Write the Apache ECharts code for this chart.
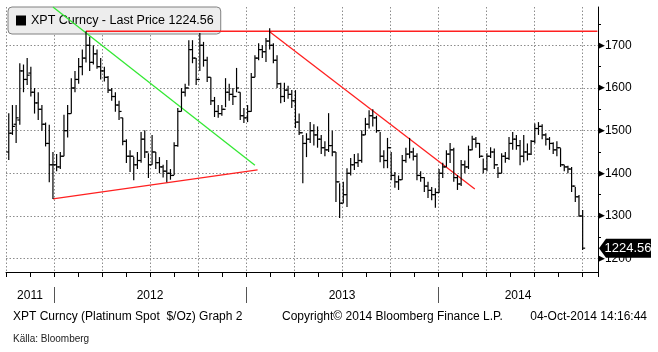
<!DOCTYPE html>
<html>
<head>
<meta charset="utf-8">
<script src="https://cdn.jsdelivr.net/npm/echarts@6.0.0/dist/echarts.min.js"></script>
<style>
  html, body { margin: 0; padding: 0; background: #fff; }
  #main { width: 658px; height: 352px; }
</style>
</head>
<body>
<div id="main"></div>
<script type="text/javascript">
// weekly bars, first week ending 2011-10-07
var firstWeek = '2011-10-07';

var openP = [1450,1494,1515,1525,1640,1620,1635,1590,1565,1550,1515,1470,1420,1420,1415,1440,1500,1540,1600,1620,
  1650,1670,1700,1660,1680,1650,1640,1625,1595,1580,1560,1530,1475,1440,1440,1420,1430,1480,1450,1420,
  1450,1425,1415,1405,1400,1395,1465,1545,1590,1600,1690,1670,1620,1700,1665,1625,1570,1545,1540,1550,
  1590,1585,1580,1590,1535,1530,1545,1625,1670,1690,1685,1710,1700,1665,1610,1580,1595,1585,1570,1520,
  1495,1470,1480,1500,1490,1480,1460,1455,1465,1450,1380,1330,1350,1400,1420,1425,1430,1490,1515,1535,
  1530,1500,1440,1430,1460,1395,1380,1385,1430,1445,1450,1440,1395,1390,1370,1360,1350,1355,1400,1415,
  1445,1455,1390,1375,1420,1415,1455,1480,1470,1440,1410,1440,1450,1420,1400,1440,1435,1470,1480,1465,
  1440,1450,1445,1475,1505,1510,1490,1480,1470,1455,1460,1420,1415,1410,1370,1345,1300];
var highP = [1541,1560,1560,1658,1655,1670,1650,1600,1590,1560,1519,1514,1450,1445,1450,1537,1560,1623,1640,1670,
  1690,1733,1720,1700,1690,1670,1650,1628,1600,1590,1570,1530,1480,1454,1438,1450,1497,1501,1447,1490,
  1450,1438,1420,1431,1410,1473,1553,1600,1610,1712,1712,1670,1729,1708,1673,1625,1579,1560,1560,1623,
  1610,1600,1647,1590,1553,1560,1635,1677,1705,1700,1717,1740,1705,1677,1612,1612,1605,1595,1595,1540,
  1490,1494,1520,1515,1510,1490,1475,1541,1500,1450,1377,1380,1412,1436,1445,1447,1501,1530,1548,1550,
  1535,1497,1454,1483,1450,1403,1395,1443,1460,1483,1460,1447,1405,1391,1380,1368,1365,1410,1425,1454,
  1471,1460,1396,1431,1430,1465,1488,1485,1471,1435,1447,1461,1458,1415,1447,1450,1485,1497,1490,1478,
  1490,1470,1478,1517,1520,1515,1494,1485,1473,1475,1459,1420,1418,1415,1368,1349,1314];
var lowP = [1431,1490,1471,1514,1590,1607,1580,1540,1525,1500,1463,1379,1340,1405,1410,1440,1484,1540,1590,1610,
  1630,1660,1640,1655,1645,1620,1615,1588,1570,1544,1525,1466,1424,1403,1384,1410,1425,1436,1389,1420,
  1410,1400,1390,1379,1385,1396,1462,1545,1580,1605,1658,1607,1640,1650,1614,1560,1532,1530,1535,1555,
  1570,1560,1590,1525,1518,1520,1544,1625,1665,1670,1661,1690,1658,1600,1564,1567,1575,1553,1506,1490,
  1377,1438,1471,1465,1460,1445,1440,1450,1440,1333,1295,1330,1321,1395,1408,1415,1425,1490,1505,1510,
  1495,1426,1412,1412,1384,1366,1361,1385,1425,1435,1430,1384,1380,1356,1342,1337,1319,1354,1389,1415,
  1424,1380,1361,1370,1400,1410,1454,1460,1436,1400,1405,1436,1410,1389,1400,1425,1431,1455,1455,1419,
  1426,1430,1443,1470,1490,1480,1465,1455,1445,1440,1415,1405,1400,1356,1333,1298,1220];
var closeP = [1494,1510,1530,1640,1620,1630,1590,1565,1550,1515,1470,1420,1420,1415,1440,1500,1540,1600,1620,1650,
  1670,1700,1660,1680,1650,1640,1625,1595,1580,1560,1545,1475,1440,1440,1420,1430,1480,1450,1420,1450,
  1425,1415,1405,1400,1395,1465,1545,1590,1600,1690,1670,1620,1700,1665,1625,1570,1545,1540,1550,1590,
  1585,1580,1600,1535,1530,1545,1625,1670,1690,1685,1710,1700,1665,1610,1580,1595,1585,1570,1520,1495,
  1470,1480,1500,1490,1480,1460,1455,1465,1450,1380,1330,1350,1400,1420,1425,1430,1490,1515,1535,1530,
  1500,1440,1430,1460,1395,1380,1385,1430,1445,1450,1440,1395,1390,1370,1360,1350,1355,1400,1415,1445,
  1455,1390,1375,1420,1415,1455,1480,1470,1440,1410,1440,1450,1420,1400,1440,1435,1470,1480,1465,1440,
  1450,1445,1475,1505,1510,1490,1480,1470,1455,1460,1420,1415,1410,1370,1345,1300,1224.56];

var lastPrice = 1224.56;
var seriesName = 'XPT Curncy - Last Price 1224.56';

// trend lines [date, price]
var greenLine = [['2011-12-30', 1790], ['2013-01-18', 1419]];
var supportLine = [['2011-12-30', 1340], ['2013-01-23', 1408]];
var topLine = [['2012-03-02', 1733], ['2014-10-31', 1733]];
var downLine = [['2013-02-15', 1732], ['2014-03-12', 1363]];

var yLabels = [1200, 1300, 1400, 1500, 1600, 1700];
var yMinor = [1250, 1350, 1450, 1550, 1650, 1750];
var yearLabels = ['2011', '2012', '2013', '2014'];
var yearBreaks = [2012, 2013, 2014];

var X_MIN = 2011.75, X_MAX = 2014 + 10 / 12;
var Y_MIN = 1168.7, Y_MAX = 1789.8;

function toYear(d) {
  var t = typeof d === 'number' ? d : Date.parse(d);
  var y = new Date(t).getUTCFullYear();
  var s = Date.UTC(y, 0, 1), e = Date.UTC(y + 1, 0, 1);
  return y + (t - s) / (e - s);
}

var t0 = Date.parse(firstWeek);
var ohlc = [];
for (var i = 0; i < closeP.length; i++) {
  ohlc.push([toYear(t0 + i * 7 * 86400000), openP[i], highP[i], lowP[i], closeP[i]]);
}
function line(pts) {
  return pts.map(function (p) { return [toYear(p[0]), p[1]]; });
}

// year label positions: middle of the visible part of each year
var yearPos = yearLabels.map(function (y) {
  var a = Math.max(+y, X_MIN), b = Math.min(+y + 1, X_MAX);
  return (a + b) / 2;
});

var chart = echarts.init(document.getElementById('main'));
var font = "'Liberation Sans', Arial, sans-serif";
var dotted = { color: '#8c8c8c', type: [1.5, 2], width: 1 };

function renderBar(params, api) {
  var x = api.value(0);
  var pO = api.coord([x, api.value(1)]);
  var pH = api.coord([x, api.value(2)]);
  var pL = api.coord([x, api.value(3)]);
  var pC = api.coord([x, api.value(4)]);
  var st = { stroke: '#000', lineWidth: 1.2 };
  return {
    type: 'group',
    children: [
      { type: 'line', shape: { x1: pH[0], y1: pH[1], x2: pL[0], y2: pL[1] }, style: st },
      { type: 'line', shape: { x1: pO[0] - 2.5, y1: pO[1], x2: pO[0], y2: pO[1] }, style: st },
      { type: 'line', shape: { x1: pC[0], y1: pC[1], x2: pC[0] + 2.5, y2: pC[1] }, style: st }
    ]
  };
}

function trend(data, color) {
  return {
    type: 'line', data: line(data), symbol: 'none', silent: true, clip: true,
    lineStyle: { color: color, width: 1.3 }, z: 3
  };
}

var topSeries = trend(topLine, '#ff2020');
topSeries.markPoint = {
  silent: true,
  symbol: 'path://M0,9L7,0L52,0L52,18L7,18Z',
  symbolSize: [52, 19],
  symbolKeepAspect: false,
  symbolOffset: [27, 0],
  itemStyle: { color: '#000' },
  label: { show: true, color: '#fff', fontSize: 13, fontFamily: font, offset: [3, 0], formatter: String(lastPrice) },
  data: [{ coord: [X_MAX, lastPrice] }]
};

chart.setOption({
  animation: false,
  textStyle: { fontFamily: font },
  grid: { left: 6, right: 60, top: 7, bottom: 80 },
  legend: {
    left: 8, top: 7, data: [seriesName], z: 1,
    icon: 'rect', itemWidth: 10, itemHeight: 10,
    padding: [7, 7, 7, 8],
    backgroundColor: '#ededed',
    borderColor: '#808080', borderWidth: 1, borderRadius: 4,
    textStyle: { fontSize: 12.5, color: '#000', fontFamily: font },
    selectedMode: false
  },
  title: [
    { text: 'XPT Curncy (Platinum Spot  $/Oz) Graph 2', left: 8, top: 306, textStyle: { fontSize: 12, fontWeight: 'normal', color: '#000', fontFamily: font } },
    { text: 'Copyright\u00a9 2014 Bloomberg Finance L.P.', left: 277, top: 306, textStyle: { fontSize: 12, fontWeight: 'normal', color: '#000', fontFamily: font } },
    { text: '04-Oct-2014 14:16:44', right: 6, top: 306, textStyle: { fontSize: 12, fontWeight: 'normal', color: '#000', fontFamily: font } },
    { text: 'K\u00e4lla: Bloomberg', left: 8, top: 329, textStyle: { fontSize: 10, fontWeight: 'normal', color: '#222', fontFamily: "'Liberation Sans Narrow', " + font } }
  ],
  xAxis: [{
    type: 'value', min: X_MIN, max: X_MAX, interval: 0.25,
    axisLine: { show: true, onZero: false, lineStyle: { color: '#000', width: 1 } },
    axisTick: { show: true, length: 5, lineStyle: { color: '#000' } },
    minorTick: { show: true, splitNumber: 2, length: 5, lineStyle: { color: '#000' } },
    splitLine: { show: true, lineStyle: dotted },
    axisLabel: {
      customValues: yearPos, margin: 18, fontSize: 12, color: '#000',
      formatter: function (v) { return String(Math.floor(v)); }
    }
  }, {
    type: 'value', min: X_MIN, max: X_MAX, position: 'bottom', offset: 15,
    axisLine: { show: false },
    axisTick: { show: true, customValues: yearBreaks, length: 16, lineStyle: { color: '#555' } },
    axisLabel: { show: false },
    splitLine: { show: false }
  }],
  yAxis: [{
    type: 'value', position: 'right', min: Y_MIN, max: Y_MAX,
    axisLine: { show: true, lineStyle: { color: '#000' } },
    axisTick: { show: false, customValues: yLabels },
    splitLine: { show: true, lineStyle: dotted },
    axisLabel: {
      customValues: yLabels, margin: 0, color: '#000',
      formatter: function (v) { return '{t|\u25b6}{v|' + v + '}'; },
      rich: {
        t: { fontSize: 9, fontFamily: 'DejaVu Sans', color: '#000' },
        v: { fontSize: 12, fontFamily: font, color: '#000' }
      }
    }
  }, {
    type: 'value', position: 'right', min: Y_MIN, max: Y_MAX,
    axisLine: { show: false },
    axisTick: { show: true, customValues: yMinor, length: 3, lineStyle: { color: '#000' } },
    axisLabel: { show: false },
    splitLine: { show: false }
  }],
  series: [
    {
      name: seriesName, type: 'custom', renderItem: renderBar,
      data: ohlc, itemStyle: { color: '#000' },
      encode: { x: 0, y: [1, 2, 3, 4] }, z: 4, clip: true
    },
    trend(greenLine, '#33e833'),
    trend(supportLine, '#ff2020'),
    topSeries,
    trend(downLine, '#ff2020')
  ]
});
</script>
</body>
</html>
